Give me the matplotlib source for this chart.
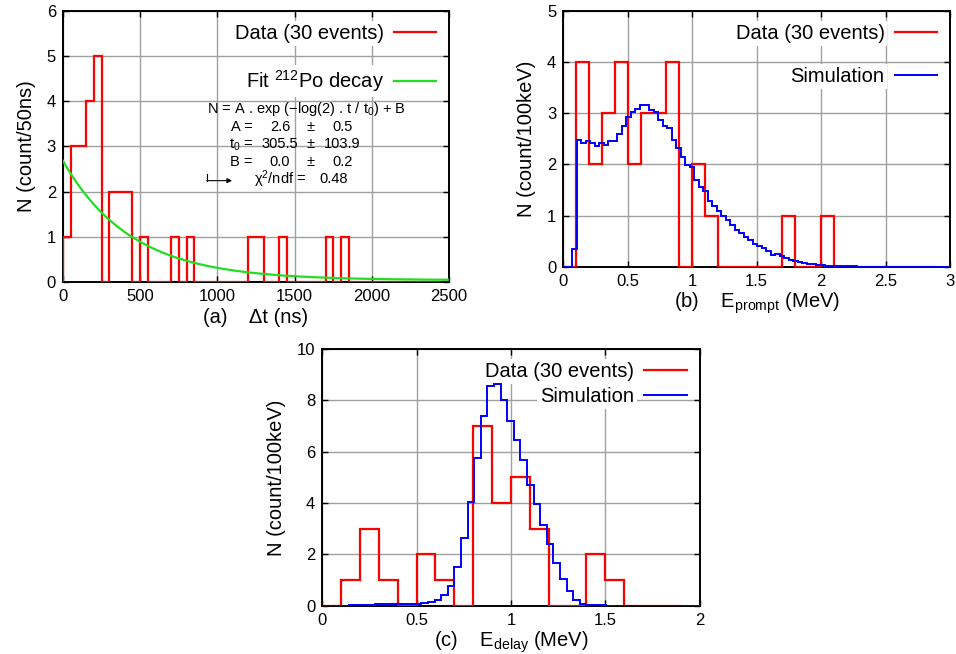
import numpy as np
import matplotlib
matplotlib.use("Agg")
import matplotlib.pyplot as plt

plt.rcParams["font.family"] = ["Liberation Sans", "DejaVu Sans"]
plt.rcParams["mathtext.fontset"] = "custom"
plt.rcParams["mathtext.rm"] = "Liberation Sans"
plt.rcParams["mathtext.it"] = "Liberation Sans"

# ---- (a) time difference, 50 ns bins ----
dt_bin = 50.0
dt_counts = [1, 3, 3, 4, 5, 0, 2, 2, 2, 0,
             1, 0, 0, 0, 1, 0, 1, 0, 0, 0,
             0, 0, 0, 0, 1, 1, 0, 0, 1, 0,
             0, 0, 0, 0, 1, 0, 1, 0, 0, 0,
             0, 0, 0, 0, 0, 0, 0, 0, 0]
# 212Po fit: N = A exp(-log2 t/t0) + B
fit_A, fit_A_err = 2.64, 0.5
fit_t0, fit_t0_err = 305.5, 103.9
fit_B, fit_B_err = 0.04, 0.2
fit_chi2ndf = 0.48

# ---- (b) prompt energy ----
e_bin = 0.1
prompt_counts = [0, 4, 2, 3, 4, 2, 3, 3, 4, 0,
                 2, 1, 0, 0, 0, 0, 0, 1, 0, 0,
                 1, 0, 0, 0, 0, 0, 0, 0, 0]
sim_bin = 0.035
prompt_sim = [0, 0, 0.35, 2.48, 2.41, 2.45, 2.41, 2.35, 2.42, 2.38,
              2.46, 2.46, 2.60, 2.75, 2.92, 3.03, 3.09, 3.15, 3.15, 3.06,
              3.03, 2.86, 2.75, 2.71, 2.48, 2.32, 2.14, 1.99, 1.94, 1.69,
              1.56, 1.48, 1.29, 1.19, 1.09, 0.99, 0.92, 0.82, 0.72, 0.66,
              0.58, 0.53, 0.45, 0.40, 0.36, 0.31, 0.23, 0.24, 0.20, 0.17,
              0.14, 0.12, 0.09, 0.07, 0.06, 0.045, 0.035, 0.025, 0.02, 0.015,
              0.01, 0.008, 0.006, 0.005, 0.004, 0.003, 0.002, 0.002, 0.001, 0.001,
              0, 0, 0, 0, 0, 0, 0, 0, 0, 0,
              0, 0, 0, 0, 0, 0]

# ---- (c) delayed energy ----
delay_counts = [0, 1, 3, 1, 0, 2, 1, 0, 7, 4,
                5, 3, 0, 0, 2, 1, 0, 0, 0]
delay_sim = [0, 0, 0, 0, 0.03, 0.04, 0.04, 0.04, 0.05, 0.05,
             0.05, 0.05, 0.06, 0.06, 0.08, 0.10, 0.15, 0.22, 0.40, 0.75,
             1.51, 2.62, 4.02, 5.76, 7.39, 8.54, 8.62, 8.00, 7.19, 6.45,
             5.67, 4.71, 3.97, 3.15, 2.40, 1.67, 1.02, 0.57, 0.23, 0.08,
             0.04, 0.02, 0.01, 0.005, 0, 0, 0, 0, 0, 0,
             0, 0, 0, 0, 0, 0, 0, 0]

RED = "#ff0000"
BLUE = "#0000ff"
GREEN = "#22dd22"
GRID = "#a0a0a0"
LABEL_FS = 14.5


def style(ax, xlim, ylim, xticks, yticks, xticklabels=None):
    ax.set_xlim(*xlim)
    ax.set_ylim(*ylim)
    ax.set_xticks(xticks)
    ax.set_yticks(yticks)
    if xticklabels is not None:
        ax.set_xticklabels(xticklabels)
    ax.grid(True, color=GRID, lw=1.0)
    ax.set_axisbelow(True)
    ax.tick_params(direction="in", length=4, width=1, labelsize=12,
                   top=True, right=True, pad=5)
    for s in ax.spines.values():
        s.set_linewidth(1.4)


def legend(ax, spacing):
    lg = ax.legend(loc="upper right", markerfirst=False, fontsize=LABEL_FS,
                   handlelength=2.1, handletextpad=0.5, labelspacing=spacing,
                   borderaxespad=0.3, borderpad=0.35, frameon=False)
    # white boxes behind the key texts only, grid shows between rows
    for txt in lg.get_texts():
        txt.set_bbox(dict(facecolor="white", edgecolor="none", pad=2))
    lg.set_zorder(1.5)
    return lg


fig = plt.figure(figsize=(9.56, 6.54), dpi=100)
ax_a = fig.add_axes([0.0659, 0.5688, 0.4038, 0.4144])
ax_b = fig.add_axes([0.5892, 0.5922, 0.4045, 0.3914])
ax_c = fig.add_axes([0.3371, 0.0739, 0.3948, 0.3925])

# (a)
edges_a = np.arange(len(dt_counts) + 1) * dt_bin
ax_a.stairs(dt_counts, edges_a, color=RED, lw=1.6, zorder=3,
            label="Data (30 events)")
t = np.linspace(0, 2500, 500)
ax_a.plot(t, fit_A * np.exp(-np.log(2) * t / fit_t0) + fit_B, color=GREEN,
          lw=1.6, zorder=3, label="Fit $^{212}$Po decay")
style(ax_a, (0, 2500), (0, 6), np.arange(0, 2501, 500), np.arange(0, 7))
ax_a.set_xlabel("(a)    \u0394t (ns)", fontsize=LABEL_FS, labelpad=3)
ax_a.set_ylabel("N (count/50ns)", fontsize=LABEL_FS, labelpad=8)
legend(ax_a, 1.25)

tr = ax_a.transAxes
fs = 10.5
ax_a.text(0.630, 0.638, "N = A . exp (\u2212log(2) . t / t$_0$) + B",
          transform=tr, ha="center", va="center", fontsize=fs)
rows = [("A =", fit_A, fit_A_err, "%.1f"),
        ("t$_0$ =", fit_t0, fit_t0_err, "%.1f"),
        ("B =", fit_B, fit_B_err, "%.1f")]
for i, (name, val, err, fmt) in enumerate(rows):
    y = 0.572 - i * 0.0645
    ax_a.text(0.492, y, name, transform=tr, ha="right", va="center", fontsize=fs)
    ax_a.text(0.562, y, fmt % val, transform=tr, ha="center", va="center", fontsize=fs)
    ax_a.text(0.642, y, "\u00b1", transform=tr, ha="center", va="center", fontsize=fs)
    ax_a.text(0.723, y, fmt % err, transform=tr, ha="center", va="center", fontsize=fs)
ax_a.text(0.630, 0.380, "\u03c7$^2$/ndf =", transform=tr, ha="right", va="center", fontsize=fs)
ax_a.text(0.663, 0.380, "%.2f" % fit_chi2ndf, transform=tr, ha="left", va="center", fontsize=fs)
ax_a.plot([0.373, 0.373], [0.400, 0.374], transform=tr, color="k", lw=0.8)
ax_a.annotate("", xy=(0.438, 0.374), xytext=(0.372, 0.374), xycoords=tr,
              arrowprops=dict(arrowstyle="-|>", color="k", lw=0.8,
                              mutation_scale=7, shrinkA=0, shrinkB=0))

# (b)
edges_b = np.arange(len(prompt_counts) + 1) * e_bin
edges_bs = np.arange(len(prompt_sim) + 1) * sim_bin
ax_b.stairs(prompt_counts, edges_b, color=RED, lw=1.6, zorder=3,
            label="Data (30 events)")
ax_b.stairs(prompt_sim, edges_bs, color=BLUE, lw=1.4, zorder=3,
            label="Simulation")
style(ax_b, (0, 3), (0, 5), np.arange(0, 3.01, 0.5), np.arange(0, 6),
      ["0", "0.5", "1", "1.5", "2", "2.5", "3"])
ax_b.set_xlabel("(b)    E$_{\\mathrm{prompt}}$ (MeV)", fontsize=LABEL_FS, labelpad=1)
ax_b.set_ylabel("N (count/100keV)", fontsize=LABEL_FS, labelpad=8)
legend(ax_b, 1.2)

# (c)
edges_c = np.arange(len(delay_counts) + 1) * e_bin
edges_cs = np.arange(len(delay_sim) + 1) * sim_bin
ax_c.stairs(delay_counts, edges_c, color=RED, lw=1.6, zorder=3,
            label="Data (30 events)")
ax_c.stairs(delay_sim, edges_cs, color=BLUE, lw=1.4, zorder=3,
            label="Simulation")
style(ax_c, (0, 2), (0, 10), np.arange(0, 2.01, 0.5), np.arange(0, 11, 2),
      ["0", "0.5", "1", "1.5", "2"])
ax_c.set_xlabel("(c)    E$_{\\mathrm{delay}}$ (MeV)", fontsize=LABEL_FS, labelpad=1)
ax_c.set_ylabel("N (count/100keV)", fontsize=LABEL_FS, labelpad=8)
legend(ax_c, 0.3)

fig.savefig("out.png", dpi=100)
